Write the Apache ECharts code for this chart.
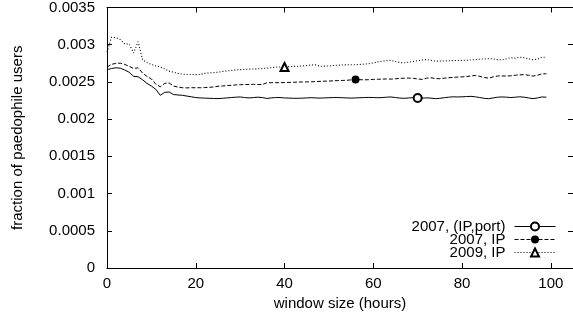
<!DOCTYPE html>
<html>
<head>
<meta charset="utf-8">
<script src="https://cdn.jsdelivr.net/npm/echarts@6/dist/echarts.min.js"></script>
<style>
  html, body { margin: 0; padding: 0; background: #fff; }
  #chart { width: 573px; height: 322px; }
</style>
</head>
<body>
<div id="chart"></div>
<script>
const hours = [
  0, 1, 2, 3, 4, 5, 6, 7, 8, 9, 10, 11, 12, 13, 14, 15, 16, 17, 18, 19,
  20, 21, 22, 23, 24, 25, 26, 27, 28, 29, 30, 31, 32, 33, 34, 35, 36, 37, 38, 39,
  40, 41, 42, 43, 44, 45, 46, 47, 48, 49, 50, 51, 52, 53, 54, 55, 56, 57, 58, 59,
  60, 61, 62, 63, 64, 65, 66, 67, 68, 69, 70, 71, 72, 73, 74, 75, 76, 77, 78, 79,
  80, 81, 82, 83, 84, 85, 86, 87, 88, 89, 90, 91, 92, 93, 94, 95, 96, 97, 98, 99
];

// 2007, (IP,port)
const ipPort2007 = [
  0.002664, 0.00268, 0.00269, 0.002685, 0.00266, 0.00263, 0.002575, 0.00257, 0.00253, 0.00248,
  0.002445, 0.0024, 0.00232, 0.00236, 0.002365, 0.00233, 0.002325, 0.00232, 0.00231, 0.0023,
  0.00229, 0.002285, 0.002283, 0.00228, 0.002278, 0.002276, 0.00228, 0.002285, 0.00229, 0.002295,
  0.002298, 0.00229, 0.002285, 0.00229, 0.002295, 0.00229, 0.002278, 0.002285, 0.00229, 0.00229,
  0.002285, 0.002283, 0.00228, 0.00228, 0.002282, 0.002285, 0.002288, 0.002285, 0.002283, 0.002285,
  0.002288, 0.00229, 0.00229, 0.002288, 0.002285, 0.002283, 0.002285, 0.002288, 0.00229, 0.002292,
  0.00229, 0.002288, 0.00229, 0.002295, 0.002298, 0.00229, 0.002283, 0.00228, 0.002285, 0.002288,
  0.002285, 0.002283, 0.002285, 0.002283, 0.002275, 0.00228, 0.002288, 0.002295, 0.0023, 0.002298,
  0.0023, 0.002303, 0.002306, 0.0023, 0.00229, 0.00228, 0.002275, 0.002285, 0.002295, 0.002298,
  0.002295, 0.00229, 0.002295, 0.0023, 0.002295, 0.002285, 0.002275, 0.002285, 0.002298, 0.002295
];

// 2007, IP
const ip2007 = [
  0.0027, 0.002735, 0.00275, 0.002752, 0.002735, 0.00271, 0.00268, 0.00269, 0.00262, 0.002575,
  0.00254, 0.00247, 0.002435, 0.00248, 0.002485, 0.002445, 0.00243, 0.002422, 0.00242, 0.002422,
  0.002422, 0.002422, 0.002424, 0.002428, 0.002432, 0.002442, 0.002446, 0.00245, 0.002455, 0.00246,
  0.002462, 0.002465, 0.002466, 0.002468, 0.002466, 0.002465, 0.002488, 0.00249, 0.00249, 0.00249,
  0.002492, 0.002494, 0.002495, 0.002498, 0.0025, 0.0025, 0.002502, 0.002505, 0.002508, 0.00251,
  0.002512, 0.002515, 0.002518, 0.00252, 0.002522, 0.002528, 0.002532, 0.00253, 0.002528, 0.00253,
  0.002534, 0.002536, 0.002538, 0.00254, 0.002538, 0.002542, 0.002548, 0.00255, 0.002552, 0.002548,
  0.00254, 0.002534, 0.00255, 0.002556, 0.002545, 0.002543, 0.00255, 0.002556, 0.00256, 0.002565,
  0.002568, 0.002572, 0.00258, 0.002587, 0.002575, 0.00256, 0.00255, 0.002568, 0.00258, 0.00258,
  0.00258, 0.002582, 0.00259, 0.002595, 0.002598, 0.00259, 0.002578, 0.00259, 0.002608, 0.00261
];

// 2009, IP
const ip2009 = [
  0.0029, 0.0031, 0.003095, 0.00307, 0.00301, 0.00301, 0.00289, 0.00304, 0.0028, 0.00276,
  0.002735, 0.002715, 0.0027, 0.002675, 0.002645, 0.00263, 0.002615, 0.002605, 0.0026, 0.0026,
  0.002598, 0.0026, 0.002615, 0.00262, 0.002625, 0.00263, 0.00264, 0.002648, 0.002655, 0.00266,
  0.002665, 0.002668, 0.002672, 0.002674, 0.002677, 0.00268, 0.002685, 0.002692, 0.0027, 0.0027,
  0.0027, 0.002705, 0.002708, 0.00271, 0.002715, 0.00272, 0.002728, 0.00273, 0.00271, 0.002712,
  0.002715, 0.00272, 0.002725, 0.002728, 0.00273, 0.00273, 0.002732, 0.002735, 0.00274, 0.002745,
  0.002755, 0.00277, 0.00278, 0.002785, 0.00279, 0.002775, 0.00276, 0.002757, 0.002765, 0.002775,
  0.002785, 0.002795, 0.0028, 0.00279, 0.00278, 0.00278, 0.002782, 0.002785, 0.002786, 0.002788,
  0.00279, 0.002792, 0.002795, 0.0028, 0.002805, 0.00281, 0.002812, 0.00281, 0.0028, 0.002797,
  0.00281, 0.002825, 0.00282, 0.002832, 0.002825, 0.00281, 0.0028, 0.002805, 0.002832, 0.00283
];

const seriesNames = ['2007, (IP,port)', '2007, IP', '2009, IP'];
// hour at which gnuplot put the single point marker on each line
const markerHours = [70, 56, 40];

const FONT = 'Liberation Sans';
const FS = 15;

function pairs(ys) {
  return hours.map((h, i) => [h, ys[i]]);
}

function markerSize(at) {
  return (val, params) => (params.dataIndex === at ? 8 : 0);
}

const chart = echarts.init(document.getElementById('chart'), null, { renderer: 'canvas' });

const mirrorTick = { show: true, inside: true, length: 5, lineStyle: { color: '#000', width: 1 } };
const blackLine = { show: true, onZero: false, lineStyle: { color: '#000', width: 1 } };

chart.setOption({
  animation: false,
  textStyle: { fontFamily: FONT, color: '#000' },
  grid: { left: 107, top: 7, width: 468, height: 261 },
  legend: {
    orient: 'vertical',
    align: 'right',
    right: 17,
    top: 219,
    itemWidth: 41,
    itemHeight: 10,
    itemGap: -2,
    padding: 0,
    lineStyle: { width: 1 },
    itemStyle: { borderWidth: 1 },
    textStyle: { fontFamily: FONT, fontSize: FS, color: '#000', lineHeight: 14, padding: [0, 4, 0, 0] },
    data: seriesNames
  },
  xAxis: [
    {
      type: 'value',
      min: 0,
      max: 105,
      interval: 20,
      name: 'window size (hours)',
      nameLocation: 'middle',
      nameGap: 26,
      nameTextStyle: { fontFamily: FONT, fontSize: FS, color: '#000' },
      axisLine: blackLine,
      axisTick: mirrorTick,
      axisLabel: { fontFamily: FONT, fontSize: FS, color: '#000', margin: 8, showMaxLabel: false },
      splitLine: { show: false }
    },
    {
      type: 'value',
      position: 'top',
      min: 0,
      max: 105,
      interval: 20,
      axisLine: blackLine,
      axisTick: mirrorTick,
      axisLabel: { show: false },
      splitLine: { show: false }
    }
  ],
  yAxis: [
    {
      type: 'value',
      min: 0,
      max: 0.0035,
      interval: 0.0005,
      name: 'fraction of paedophile users',
      nameLocation: 'middle',
      nameGap: 82,
      nameTextStyle: { fontFamily: FONT, fontSize: FS, color: '#000' },
      axisLine: blackLine,
      axisTick: mirrorTick,
      axisLabel: { fontFamily: FONT, fontSize: FS, color: '#000', margin: 12 },
      splitLine: { show: false }
    },
    {
      type: 'value',
      position: 'right',
      min: 0,
      max: 0.0035,
      interval: 0.0005,
      axisLine: blackLine,
      axisTick: mirrorTick,
      axisLabel: { show: false },
      splitLine: { show: false }
    }
  ],
  series: [
    {
      name: seriesNames[0],
      type: 'line',
      data: pairs(ipPort2007),
      symbol: 'emptyCircle',
      symbolSize: markerSize(markerHours[0]),
      color: '#000',
      lineStyle: { color: '#000', width: 1, type: 'solid' },
      itemStyle: { color: '#000', borderColor: '#000', borderWidth: 1 },
      emphasis: { disabled: true }
    },
    {
      name: seriesNames[1],
      type: 'line',
      data: pairs(ip2007),
      symbol: 'circle',
      symbolSize: markerSize(markerHours[1]),
      color: '#000',
      lineStyle: { color: '#000', width: 1, type: [4, 2] },
      itemStyle: { color: '#000' },
      emphasis: { disabled: true }
    },
    {
      name: seriesNames[2],
      type: 'line',
      data: pairs(ip2009),
      symbol: 'emptyTriangle',
      symbolSize: markerSize(markerHours[2]),
      color: '#000',
      lineStyle: { color: '#000', width: 1.1, type: [1, 2] },
      itemStyle: { color: '#000', borderColor: '#000', borderWidth: 1 },
      emphasis: { disabled: true }
    }
  ]
});
</script>
</body>
</html>
